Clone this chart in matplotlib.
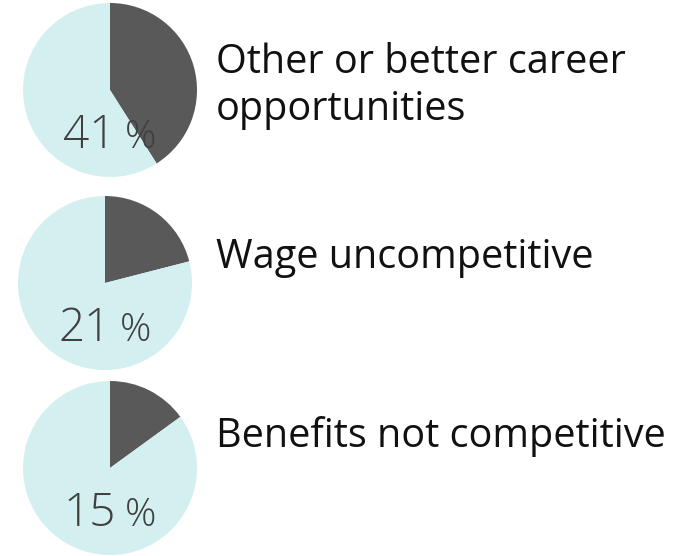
import matplotlib
matplotlib.use("Agg")
import matplotlib.pyplot as plt

# Share of respondents citing each reason
reasons = [["Other or better career", "opportunities"],
           ["Wage uncompetitive"],
           ["Benefits not competitive"]]
shares = [41, 21, 15]

W, H = 677, 556
fig = plt.figure(figsize=(W / 100, H / 100), dpi=100)
ax = fig.add_axes([0, 0, 1, 1])

dark = "#595959"
light = "#d3eff0"

# pie centers / radii in pixel space (y measured from top)
centers = [(110, 90), (105, 283), (110, 468)]
radius = 87
label_baselines = [73, 268, 447]
line_step = 47

for (cx, cy), share, lines, base in zip(centers, shares, reasons, label_baselines):
    ax.pie([share, 100 - share], colors=[dark, light], startangle=90,
           counterclock=False, center=(cx, H - cy), radius=radius,
           wedgeprops=dict(linewidth=0))
    # big number + smaller percent sign
    ax.text(cx + 6, H - (cy + 58), f"{share}", ha="right", va="baseline",
            fontsize=33, family="Open Sans", fontweight="light", color="#404040")
    ax.text(cx + 15, H - (cy + 58), "%", ha="left", va="baseline",
            fontsize=28, family="Open Sans", fontweight="light", color="#404040")
    for i, line in enumerate(lines):
        ax.text(216, H - (base + i * line_step), line, ha="left", va="baseline",
                fontsize=28.5, family="Open Sans", color="#111111")

ax.set_xlim(0, W)
ax.set_ylim(0, H)
ax.set_aspect("equal")
ax.axis("off")
fig.savefig("out.png", dpi=100)
